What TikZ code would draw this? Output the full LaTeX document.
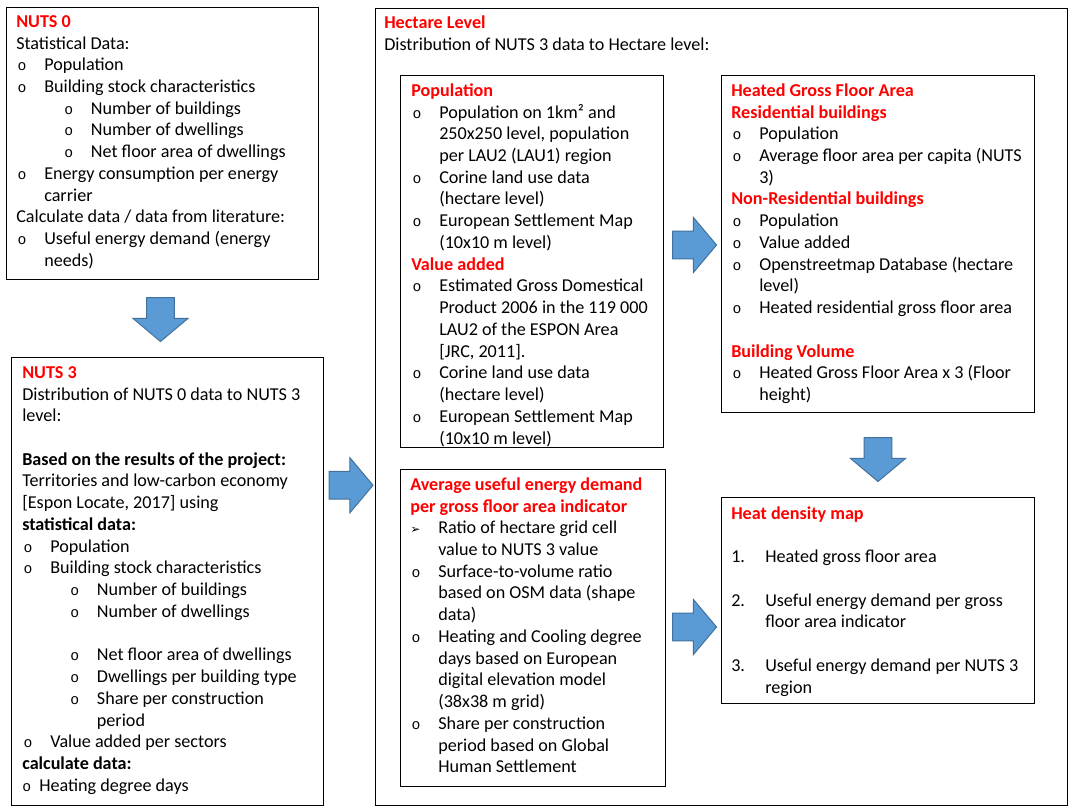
\documentclass[tikz,border=0pt]{standalone}
\usepackage{fontspec}
\setmainfont{Carlito}
\newfontfamily\bulfont{Liberation Mono}
\newfontfamily\symfont{DejaVu Sans}
\usepackage{xcolor}
\usetikzlibrary{shapes.arrows, calc}

\definecolor{titlered}{RGB}{255,0,0}
\definecolor{arrowblue}{RGB}{91,155,213}
\definecolor{arrowedge}{RGB}{65,113,156}

% list helpers
\newcommand{\bul}{{\bulfont\fontsize{11}{11}\selectfont o}}
\newcommand{\ttl}[1]{\textcolor{titlered}{\textbf{#1}}}
\newcommand{\itm}[1]{\makebox[21pt][l]{\hspace{1pt}\bul}#1}
\newcommand{\itmcont}[1]{\hspace*{21pt}#1}
\newcommand{\subitm}[1]{\hspace*{36pt}\makebox[20pt][l]{\bul}#1}
\newcommand{\subitmcont}[1]{\hspace*{56pt}#1}
\newcommand{\arritm}[1]{\makebox[21pt][l]{{\symfont\fontsize{9}{9}\selectfont ➢}}#1}
\newcommand{\numitm}[2]{\makebox[25.5pt][l]{#1}#2}

\begin{document}
\begin{tikzpicture}[
  x=0.75pt, y=-0.75pt,
  box/.style={draw, line width=0.75pt, anchor=north west, inner sep=0pt},
  txt/.style={anchor=north west, inner sep=0pt, align=left,
              font=\fontsize{13.6}{16.3}\selectfont},
  fatarrow/.style={single arrow, fill=arrowblue, draw=arrowedge, line width=0.75pt,
                   minimum height=33pt, minimum width=1pt, inner xsep=0pt, inner ysep=10.1pt,
                   single arrow head extend=10.1pt, single arrow tip angle=100, anchor=tail}
]
\useasboundingbox (0,0) rectangle (1073,809);

% left column
\node[box, minimum width=234pt, minimum height=204pt] (n0) at (6,7) {};
\node[txt] (n0txt) at ([shift={(10,4.8)}]n0.north west) {%
  \strut\ttl{NUTS 0}\\
  Statistical Data:\\
  \itm{Population}\\
  \itm{Building stock characteristics}\\
  \subitm{Number of buildings}\\
  \subitm{Number of dwellings}\\
  \subitm{Net floor area of dwellings}\\
  \itm{Energy consumption per energy}\\
  \itmcont{carrier}\\
  Calculate data / data from literature:\\
  \itm{Useful energy demand (energy}\\
  \itmcont{needs)}};

\node[box, minimum width=234pt, minimum height=336pt] (n3) at (11,357) {};
\node[txt] (n3txt) at ([shift={(11,5.8)}]n3.north west) {%
  \strut\ttl{NUTS 3}\\
  Distribution of NUTS 0 data to NUTS 3\\
  level:\\[16.3pt]
  \textbf{Based on the results of the project:}\\
  Territories and low-carbon economy\\
  \relax[Espon Locate, 2017] using\\
  \textbf{statistical data:}\\
  \itm{Population}\\
  \itm{Building stock characteristics}\\
  \subitm{Number of buildings}\\
  \subitm{Number of dwellings}\\[16.3pt]
  \subitm{Net floor area of dwellings}\\
  \subitm{Dwellings per building type}\\
  \subitm{Share per construction}\\
  \subitmcont{period}\\
  \itm{Value added per sectors}\\
  \textbf{calculate data:}\\
  \makebox[12.75pt][l]{\bul}Heating degree days};

% hectare level
\node[box, minimum width=519pt, minimum height=597.75pt] (hect) at (375,8) {};
\node[txt] (hecttxt) at ([shift={(9,4.8)}]hect.north west) {%
  \strut\ttl{Hectare Level}\\
  Distribution of NUTS 3 data to Hectare level:};

\node[box, minimum width=197.25pt, minimum height=279pt] (pop) at (400,75) {};
\node[txt] (poptxt) at ([shift={(11,5.8)}]pop.north west) {%
  \strut\ttl{Population}\\
  \itm{Population on 1km² and}\\
  \itmcont{250x250 level, population}\\
  \itmcont{per LAU2 (LAU1) region}\\
  \itm{Corine land use data}\\
  \itmcont{(hectare level)}\\
  \itm{European Settlement Map}\\
  \itmcont{(10x10 m level)}\\
  \ttl{Value added}\\
  \itm{Estimated Gross Domestical}\\
  \itmcont{Product 2006 in the 119 000}\\
  \itmcont{LAU2 of the ESPON Area}\\
  \itmcont{[JRC, 2011].}\\
  \itm{Corine land use data}\\
  \itmcont{(hectare level)}\\
  \itm{European Settlement Map}\\
  \itmcont{(10x10 m level)}};

\node[box, minimum width=234.75pt, minimum height=252.75pt] (heat) at (721,75) {};
\node[txt] (heattxt) at ([shift={(10,5.8)}]heat.north west) {%
  \strut\ttl{Heated Gross Floor Area}\\
  \ttl{Residential buildings}\\
  \itm{Population}\\
  \itm{Average floor area per capita (NUTS}\\
  \itmcont{3)}\\
  \ttl{Non-Residential buildings}\\
  \itm{Population}\\
  \itm{Value added}\\
  \itm{Openstreetmap Database (hectare}\\
  \itmcont{level)}\\
  \itm{Heated residential gross floor area}\\[16.3pt]
  \ttl{Building Volume}\\
  \itm{Heated Gross Floor Area x 3 (Floor}\\
  \itmcont{height)}};

\node[box, minimum width=198.75pt, minimum height=237.75pt] (avg) at (400,469) {};
\node[txt] (avgtxt) at ([shift={(10,5.8)}]avg.north west) {%
  \strut\ttl{Average useful energy demand}\\
  \ttl{per gross floor area indicator}\\
  \arritm{Ratio of hectare grid cell}\\
  \itmcont{value to NUTS 3 value}\\
  \itm{Surface-to-volume ratio}\\
  \itmcont{based on OSM data (shape}\\
  \itmcont{data)}\\
  \itm{Heating and Cooling degree}\\
  \itmcont{days based on European}\\
  \itmcont{digital elevation model}\\
  \itmcont{(38x38 m grid)}\\
  \itm{Share per construction}\\
  \itmcont{period based on Global}\\
  \itmcont{Human Settlement}};

\node[box, minimum width=234.75pt, minimum height=154.5pt] (hd) at (721,497) {};
\node[txt] (hdtxt) at ([shift={(10,6.8)}]hd.north west) {%
  \strut\ttl{Heat density map}\\[16.3pt]
  \numitm{1.}{Heated gross floor area}\\[16.3pt]
  \numitm{2.}{Useful energy demand per gross}\\
  \hspace*{25.5pt}floor area indicator\\[16.3pt]
  \numitm{3.}{Useful energy demand per NUTS 3}\\
  \hspace*{25.5pt}region};

% block arrows
\node[fatarrow, rotate=-90] (a1) at ($(n0.south)+(-2,17)$) {};
\node[fatarrow] (a2) at ($(n3.east)!0.5!(hect.west)+(-21,-9)$) {};
\node[fatarrow] (a3) at ($(pop.east |- heat.west)+(8,1)$) {};
\node[fatarrow] (a4) at ($(avg.east)+(6,-1)$) {};
\node[fatarrow, rotate=-90] (a5) at ($(heat.south)+(0,24)$) {};
\end{tikzpicture}
\end{document}
